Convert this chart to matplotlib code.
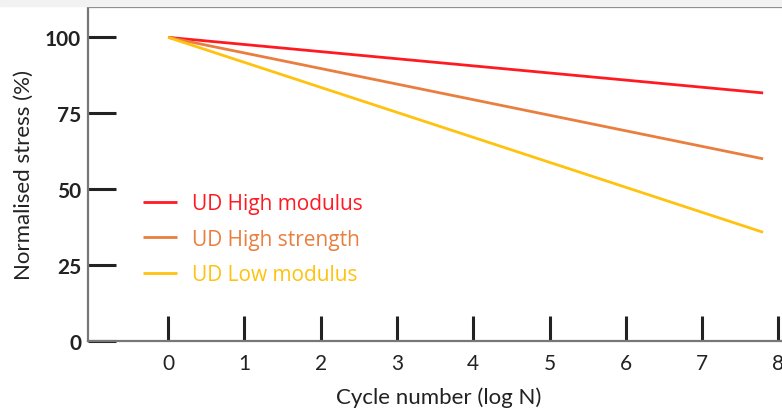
import matplotlib
matplotlib.use("Agg")
import matplotlib.pyplot as plt
from matplotlib.patches import Rectangle

plt.rcParams['font.family'] = ['Lato', 'DejaVu Sans']

log_n = [0, 7.8]
high_modulus = [100, 81.7]
high_strength = [100, 60]
low_modulus = [100, 35.8]
series_names = ["UD High modulus", "UD High strength", "UD Low modulus"]
colors = ["#FF1A22", "#E97E3E", "#FFC20E"]
x_ticks = [0, 1, 2, 3, 4, 5, 6, 7, 8]
y_ticks = [0, 25, 50, 75, 100]

fig = plt.figure(figsize=(7.82, 4.14), dpi=100)
fig.patches.append(Rectangle((0, 1 - 7/414), 1, 7/414, transform=fig.transFigure,
                             color='#f2f2f2', zorder=0))
ax = fig.add_axes([88/782, 72/414, 1 - 88/782 + 0.01, (342-8)/414])

for vals, name, c in zip([high_modulus, high_strength, low_modulus], series_names, colors):
    ax.plot(log_n, vals, color=c, lw=2, label=name, solid_capstyle='butt')

ax.set_xlim(-1.05, 8.15)
ax.set_ylim(0, 110)
ax.set_xticks(x_ticks)
ax.set_yticks(y_ticks)
ax.tick_params(axis='y', direction='in', length=20, width=2.2, color='#222222',
               pad=5, labelsize=15, labelcolor='#222222')
ax.tick_params(axis='x', direction='in', length=18, width=2.2, color='#222222',
               pad=9, labelsize=15, labelcolor='#222222')
for lab in ax.get_yticklabels():
    lab.set_fontweight('bold')

for s in ['left', 'top', 'bottom']:
    ax.spines[s].set_color('#777777')
    ax.spines[s].set_linewidth(1.6)
ax.spines['right'].set_visible(False)

ax.set_xlabel("Cycle number (log N)", fontsize=16, color='#222222', labelpad=9)
ax.set_ylabel("Normalised stress (%)", fontsize=16, color='#222222', labelpad=8)

leg = ax.legend(loc='upper left', bbox_to_anchor=(0.067, 0.468), frameon=False,
                prop={'family': ['Open Sans', 'DejaVu Sans'], 'size': 15},
                handlelength=1.6, handletextpad=0.75, labelspacing=0.7,
                borderaxespad=0)
for t, c in zip(leg.get_texts(), colors):
    t.set_color(c)

fig.savefig("out.png", dpi=100, facecolor='white')
